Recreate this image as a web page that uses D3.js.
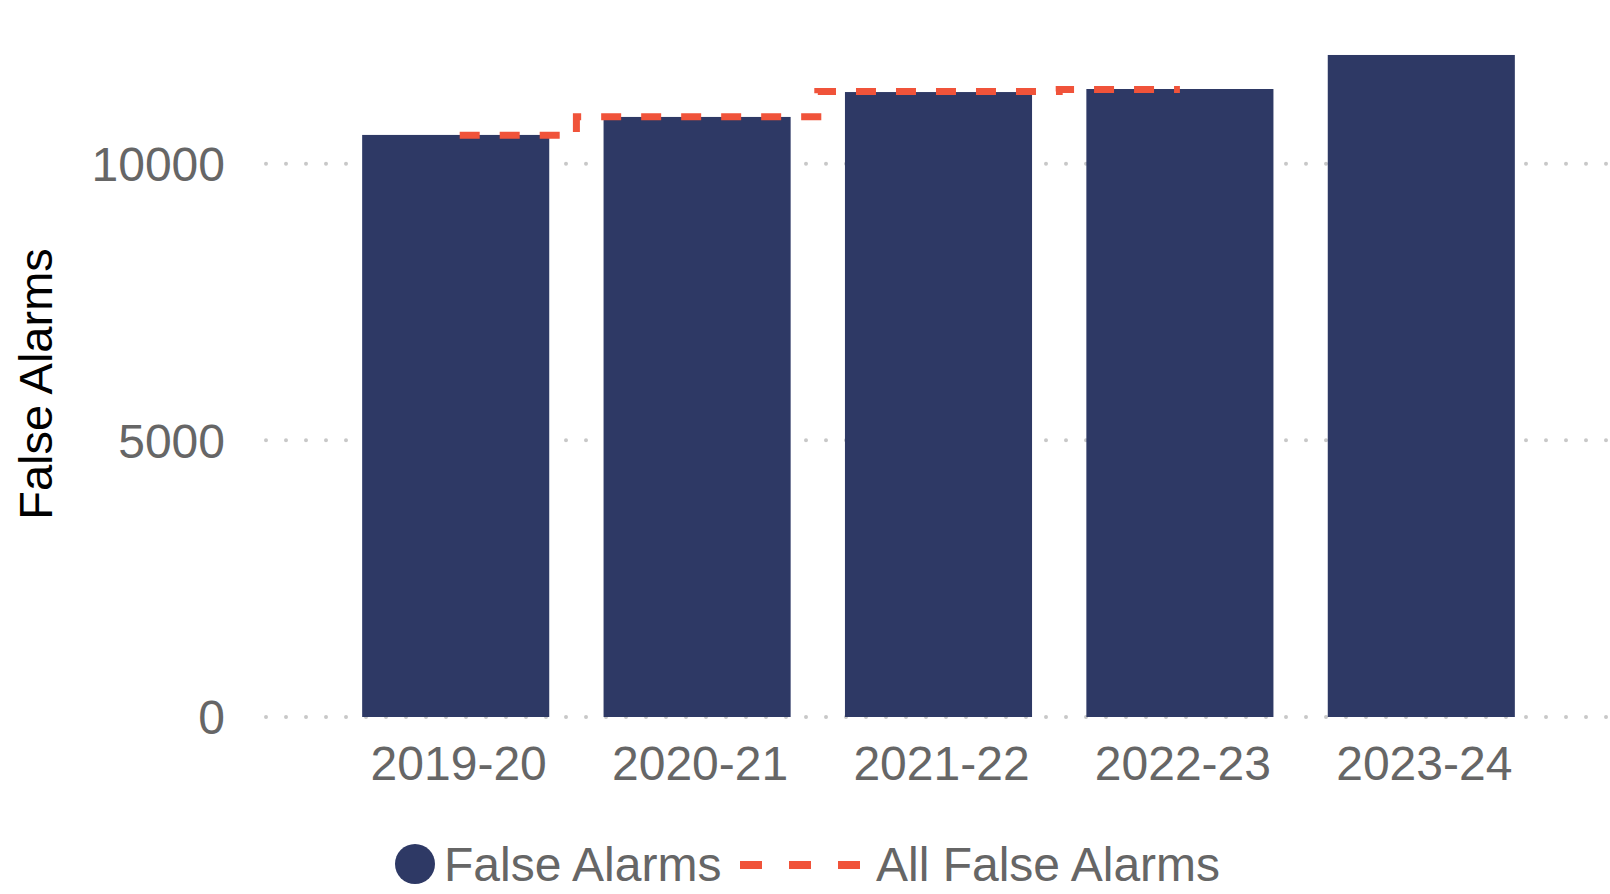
<!DOCTYPE html>
<html>
<head>
<meta charset="utf-8">
<script src="https://cdn.jsdelivr.net/npm/d3@7"></script>
<style>
  body { margin: 0; background: #fff; }
  text { font-family: "Liberation Sans", Arial, sans-serif; }
</style>
</head>
<body>
<div id="chart"></div>
<script>
// data
var years = ["2019-20", "2020-21", "2021-22", "2022-23", "2023-24"];
var falseAlarms = [10520, 10845, 11295, 11350, 11965];
var allFalseAlarms = [10515, 10850, 11305, 11340, null];
var yTicks = [0, 5000, 10000];
var seriesNames = ["False Alarms", "All False Alarms"];

var width = 1610,
    height = 894;

var barColor = "#2e3965",
    lineColor = "#f0533a";

var svg = d3.select("#chart").append("svg")
    .attr("width", width)
    .attr("height", height)
    .style("display", "block");

var x = d3.scaleBand()
    .domain(years)
    .range([335, 1542])
    .paddingInner(0.225)
    .paddingOuter(0.1125);

var y = d3.scaleLinear()
    .domain([0, 12000])
    .range([717, 717 - 12000 * 0.05533]);

// dotted gridlines
svg.append("g").selectAll("line")
    .data(yTicks)
    .enter().append("line")
    .attr("x1", 266)
    .attr("x2", width)
    .attr("y1", function(d) { return y(d); })
    .attr("y2", function(d) { return y(d); })
    .attr("stroke", "#c8c8c8")
    .attr("stroke-width", 4)
    .attr("stroke-linecap", "round")
    .attr("stroke-dasharray", "0 20");

// y tick labels
svg.append("g").selectAll("text")
    .data(yTicks)
    .enter().append("text")
    .attr("x", 225)
    .attr("y", function(d) { return y(d); })
    .attr("dy", "0.36em")
    .attr("text-anchor", "end")
    .attr("fill", "#666")
    .style("font-size", "48px")
    .text(d3.format("d"));

svg.append("text")
    .attr("transform", "translate(52,384) rotate(-90)")
    .attr("text-anchor", "middle")
    .attr("fill", "#000")
    .style("font-size", "47px")
    .text("False Alarms");

// bars
svg.append("g").selectAll("rect")
    .data(falseAlarms)
    .enter().append("rect")
    .attr("x", function(d, i) { return x(years[i]); })
    .attr("y", function(d) { return y(d); })
    .attr("width", x.bandwidth())
    .attr("height", function(d) { return y(0) - y(d); })
    .attr("fill", barColor);

// x labels
svg.append("g").selectAll("text")
    .data(years)
    .enter().append("text")
    .attr("x", function(d) { return x(d) + x.bandwidth() / 2 + 3; })
    .attr("y", 780)
    .attr("text-anchor", "middle")
    .attr("fill", "#666")
    .style("font-size", "48px")
    .text(function(d) { return d; });

// step line for all false alarms
var line = d3.line()
    .defined(function(d) { return d != null; })
    .x(function(d, i) { return x(years[i]) + x.bandwidth() / 2; })
    .y(function(d) { return y(d); })
    .curve(d3.curveStep);

svg.append("path")
    .datum(allFalseAlarms)
    .attr("d", line)
    .attr("fill", "none")
    .attr("stroke", lineColor)
    .attr("stroke-width", 7)
    .attr("stroke-dasharray", "20 20")
    .attr("stroke-dashoffset", -4);

// legend
var legend = svg.append("g");

legend.append("circle")
    .attr("cx", 415)
    .attr("cy", 864)
    .attr("r", 20)
    .attr("fill", barColor);

legend.append("text")
    .attr("x", 444)
    .attr("y", 881)
    .attr("fill", "#666")
    .style("font-size", "48px")
    .text(seriesNames[0]);

legend.append("line")
    .attr("x1", 740)
    .attr("x2", 864)
    .attr("y1", 865)
    .attr("y2", 865)
    .attr("stroke", lineColor)
    .attr("stroke-width", 8)
    .attr("stroke-dasharray", "22 27");

legend.append("text")
    .attr("x", 876)
    .attr("y", 881)
    .attr("fill", "#666")
    .style("font-size", "48px")
    .text(seriesNames[1]);
</script>
</body>
</html>
